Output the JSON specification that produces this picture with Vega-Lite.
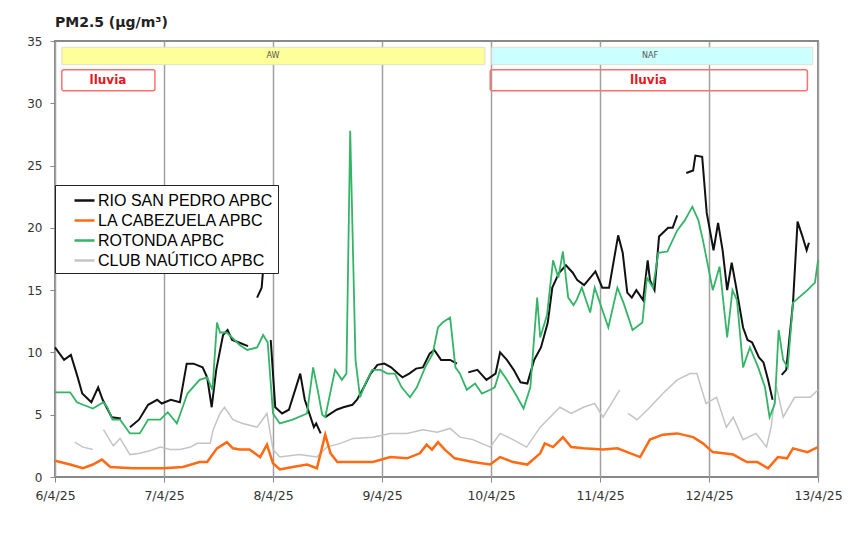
{
  "$schema": "https://vega.github.io/schema/vega-lite/v6.json",
  "width": 763,
  "height": 436,
  "autosize": {"type": "none"},
  "padding": {"left": 55, "top": 41, "right": 33, "bottom": 56},
  "background": "white",
  "title": {"text": "PM2.5 (µg/m³)", "anchor": "start", "frame": "group", "font": "DejaVu Sans", "fontSize": 14, "fontWeight": "bold", "color": "#222", "offset": 5},
  "config": {
    "view": {"stroke": "#888", "strokeWidth": 2},
    "axis": {"domain": false, "labelFont": "DejaVu Sans", "labelColor": "#333", "tickColor": "#888", "tickSize": 5, "title": null}
  },
  "datasets": {
    "bands": [
      {"name": "AW", "start": "2025-04-06T01:30", "end": "2025-04-09T22:40"},
      {"name": "NAF", "start": "2025-04-10T00:10", "end": "2025-04-12T22:50"}
    ],
    "bandlabels": [
      {"name": "AW", "t": "2025-04-08T00:00"},
      {"name": "NAF", "t": "2025-04-11T11:00"}
    ],
    "rain": [
      {"start": "2025-04-06T01:30", "end": "2025-04-06T22:00"},
      {"start": "2025-04-09T23:50", "end": "2025-04-12T21:40"}
    ],
    "rainlabels": [
      {"label": "lluvia", "t": "2025-04-06T11:40"},
      {"label": "lluvia", "t": "2025-04-11T10:40"}
    ],
    "rsp": [
      {"t": "2025-04-06T00:00", "v": 10.4}, {"t": "2025-04-06T02:00", "v": 9.4}, {"t": "2025-04-06T03:30", "v": 9.8},
      {"t": "2025-04-06T05:00", "v": 8.0}, {"t": "2025-04-06T06:00", "v": 6.7}, {"t": "2025-04-06T08:00", "v": 6.0},
      {"t": "2025-04-06T09:30", "v": 7.2}, {"t": "2025-04-06T10:30", "v": 6.2}, {"t": "2025-04-06T12:30", "v": 4.8},
      {"t": "2025-04-06T14:30", "v": 4.7}, {"t": "2025-04-06T15:30", "v": null}, {"t": "2025-04-06T16:30", "v": 4.0},
      {"t": "2025-04-06T18:30", "v": 4.6}, {"t": "2025-04-06T20:30", "v": 5.8}, {"t": "2025-04-06T22:30", "v": 6.2},
      {"t": "2025-04-06T23:30", "v": 5.9}, {"t": "2025-04-07T01:30", "v": 6.2}, {"t": "2025-04-07T03:30", "v": 6.0},
      {"t": "2025-04-07T05:00", "v": 9.1}, {"t": "2025-04-07T06:30", "v": 9.1}, {"t": "2025-04-07T08:30", "v": 8.8},
      {"t": "2025-04-07T09:30", "v": 8.0}, {"t": "2025-04-07T10:30", "v": 5.6}, {"t": "2025-04-07T11:30", "v": 8.6},
      {"t": "2025-04-07T13:00", "v": 11.4}, {"t": "2025-04-07T14:00", "v": 11.8}, {"t": "2025-04-07T15:00", "v": 11.0},
      {"t": "2025-04-07T16:30", "v": 10.8}, {"t": "2025-04-07T18:30", "v": 10.5}, {"t": "2025-04-07T19:30", "v": null},
      {"t": "2025-04-07T20:30", "v": 14.4}, {"t": "2025-04-07T21:30", "v": 15.2}, {"t": "2025-04-07T22:30", "v": 19.6},
      {"t": "2025-04-07T23:00", "v": null}, {"t": "2025-04-07T23:30", "v": 11.0}, {"t": "2025-04-08T00:30", "v": 5.6},
      {"t": "2025-04-08T02:00", "v": 5.1}, {"t": "2025-04-08T03:30", "v": 5.4}, {"t": "2025-04-08T06:00", "v": 8.3},
      {"t": "2025-04-08T07:00", "v": 6.2}, {"t": "2025-04-08T09:00", "v": 4.0}, {"t": "2025-04-08T09:30", "v": 4.3},
      {"t": "2025-04-08T10:30", "v": 3.5}, {"t": "2025-04-08T11:00", "v": null}, {"t": "2025-04-08T11:30", "v": 4.8},
      {"t": "2025-04-08T14:00", "v": 5.4}, {"t": "2025-04-08T15:30", "v": 5.6}, {"t": "2025-04-08T17:30", "v": 5.8},
      {"t": "2025-04-08T18:30", "v": 6.2}, {"t": "2025-04-08T20:00", "v": 7.2}, {"t": "2025-04-08T21:30", "v": 8.3},
      {"t": "2025-04-08T23:00", "v": 9.0}, {"t": "2025-04-09T00:30", "v": 9.1}, {"t": "2025-04-09T02:00", "v": 8.8},
      {"t": "2025-04-09T03:30", "v": 8.3}, {"t": "2025-04-09T04:30", "v": 8.0}, {"t": "2025-04-09T06:00", "v": 8.3},
      {"t": "2025-04-09T07:30", "v": 8.7}, {"t": "2025-04-09T09:00", "v": 8.8}, {"t": "2025-04-09T10:30", "v": 9.9},
      {"t": "2025-04-09T11:30", "v": 10.2}, {"t": "2025-04-09T13:00", "v": 9.4}, {"t": "2025-04-09T15:00", "v": 9.4},
      {"t": "2025-04-09T16:30", "v": 9.1}, {"t": "2025-04-09T17:30", "v": null}, {"t": "2025-04-09T19:00", "v": 8.4},
      {"t": "2025-04-09T21:00", "v": 8.6}, {"t": "2025-04-09T23:00", "v": 7.8}, {"t": "2025-04-10T01:00", "v": 8.3},
      {"t": "2025-04-10T02:00", "v": 10.0}, {"t": "2025-04-10T03:30", "v": 9.4}, {"t": "2025-04-10T05:00", "v": 8.6},
      {"t": "2025-04-10T06:30", "v": 7.6}, {"t": "2025-04-10T08:00", "v": 7.5}, {"t": "2025-04-10T09:30", "v": 9.4},
      {"t": "2025-04-10T11:00", "v": 10.4}, {"t": "2025-04-10T12:30", "v": 12.4}, {"t": "2025-04-10T13:30", "v": 15.2},
      {"t": "2025-04-10T15:00", "v": 16.4}, {"t": "2025-04-10T16:30", "v": 17.0}, {"t": "2025-04-10T18:00", "v": 16.4},
      {"t": "2025-04-10T19:00", "v": 15.8}, {"t": "2025-04-10T20:30", "v": 15.4}, {"t": "2025-04-10T23:00", "v": 16.5},
      {"t": "2025-04-11T00:30", "v": 15.2}, {"t": "2025-04-11T02:00", "v": 15.2}, {"t": "2025-04-11T04:00", "v": 19.4},
      {"t": "2025-04-11T05:00", "v": 18.0}, {"t": "2025-04-11T06:00", "v": 14.8}, {"t": "2025-04-11T07:00", "v": 14.4},
      {"t": "2025-04-11T08:00", "v": 15.0}, {"t": "2025-04-11T09:30", "v": 14.2}, {"t": "2025-04-11T10:30", "v": 17.4},
      {"t": "2025-04-11T11:00", "v": 15.8}, {"t": "2025-04-11T12:00", "v": 15.0}, {"t": "2025-04-11T13:00", "v": 19.3},
      {"t": "2025-04-11T15:00", "v": 20.0}, {"t": "2025-04-11T16:00", "v": 20.0}, {"t": "2025-04-11T17:00", "v": 21.0},
      {"t": "2025-04-11T18:00", "v": null}, {"t": "2025-04-11T19:00", "v": 24.4}, {"t": "2025-04-11T20:30", "v": 24.6},
      {"t": "2025-04-11T21:00", "v": 25.8}, {"t": "2025-04-11T22:30", "v": 25.7}, {"t": "2025-04-11T23:30", "v": 21.2},
      {"t": "2025-04-12T01:00", "v": 18.2}, {"t": "2025-04-12T02:00", "v": 20.4}, {"t": "2025-04-12T03:00", "v": 18.2},
      {"t": "2025-04-12T04:00", "v": 15.0}, {"t": "2025-04-12T05:00", "v": 17.2}, {"t": "2025-04-12T06:00", "v": 15.2},
      {"t": "2025-04-12T07:30", "v": 12.0}, {"t": "2025-04-12T08:30", "v": 11.0}, {"t": "2025-04-12T09:30", "v": 10.8},
      {"t": "2025-04-12T11:00", "v": 9.6}, {"t": "2025-04-12T12:00", "v": 9.2}, {"t": "2025-04-12T13:00", "v": 7.8},
      {"t": "2025-04-12T14:00", "v": 6.2}, {"t": "2025-04-12T15:00", "v": null}, {"t": "2025-04-12T16:00", "v": 8.2},
      {"t": "2025-04-12T17:00", "v": 8.6}, {"t": "2025-04-12T18:30", "v": 14.0}, {"t": "2025-04-12T19:30", "v": 20.5},
      {"t": "2025-04-12T20:30", "v": 19.4}, {"t": "2025-04-12T21:30", "v": 18.2}, {"t": "2025-04-12T22:00", "v": 18.8}
    ],
    "cab": [
      {"t": "2025-04-06T00:00", "v": 1.3}, {"t": "2025-04-06T03:20", "v": 1.0}, {"t": "2025-04-06T06:10", "v": 0.7},
      {"t": "2025-04-06T08:20", "v": 1.0}, {"t": "2025-04-06T10:20", "v": 1.4}, {"t": "2025-04-06T12:10", "v": 0.8},
      {"t": "2025-04-06T17:10", "v": 0.7}, {"t": "2025-04-06T23:50", "v": 0.7}, {"t": "2025-04-07T04:10", "v": 0.8},
      {"t": "2025-04-07T07:50", "v": 1.2}, {"t": "2025-04-07T09:30", "v": 1.2}, {"t": "2025-04-07T11:40", "v": 2.3},
      {"t": "2025-04-07T13:50", "v": 2.8}, {"t": "2025-04-07T15:10", "v": 2.3}, {"t": "2025-04-07T16:40", "v": 2.2},
      {"t": "2025-04-07T18:50", "v": 2.2}, {"t": "2025-04-07T21:10", "v": 1.6}, {"t": "2025-04-07T22:40", "v": 2.6},
      {"t": "2025-04-08T00:00", "v": 1.1}, {"t": "2025-04-08T01:30", "v": 0.6}, {"t": "2025-04-08T04:20", "v": 0.8},
      {"t": "2025-04-08T07:30", "v": 1.0}, {"t": "2025-04-08T09:40", "v": 0.7}, {"t": "2025-04-08T11:30", "v": 3.4},
      {"t": "2025-04-08T12:40", "v": 1.9}, {"t": "2025-04-08T14:10", "v": 1.2}, {"t": "2025-04-08T17:40", "v": 1.2},
      {"t": "2025-04-08T22:00", "v": 1.2}, {"t": "2025-04-09T01:50", "v": 1.6}, {"t": "2025-04-09T05:30", "v": 1.5},
      {"t": "2025-04-09T08:20", "v": 1.9}, {"t": "2025-04-09T09:50", "v": 2.6}, {"t": "2025-04-09T11:00", "v": 2.2},
      {"t": "2025-04-09T12:20", "v": 2.8}, {"t": "2025-04-09T13:50", "v": 2.2}, {"t": "2025-04-09T16:00", "v": 1.5},
      {"t": "2025-04-09T20:00", "v": 1.2}, {"t": "2025-04-09T23:50", "v": 1.0}, {"t": "2025-04-10T02:00", "v": 1.6},
      {"t": "2025-04-10T04:50", "v": 1.2}, {"t": "2025-04-10T08:00", "v": 1.0}, {"t": "2025-04-10T10:50", "v": 1.9},
      {"t": "2025-04-10T11:50", "v": 2.7}, {"t": "2025-04-10T13:40", "v": 2.4}, {"t": "2025-04-10T15:50", "v": 3.2},
      {"t": "2025-04-10T17:40", "v": 2.4}, {"t": "2025-04-10T20:20", "v": 2.3}, {"t": "2025-04-11T00:40", "v": 2.2},
      {"t": "2025-04-11T03:50", "v": 2.3}, {"t": "2025-04-11T08:50", "v": 1.6}, {"t": "2025-04-11T11:00", "v": 3.0},
      {"t": "2025-04-11T13:50", "v": 3.4}, {"t": "2025-04-11T17:00", "v": 3.5}, {"t": "2025-04-11T20:30", "v": 3.2},
      {"t": "2025-04-11T22:40", "v": 2.7}, {"t": "2025-04-12T00:50", "v": 2.0}, {"t": "2025-04-12T03:10", "v": 1.9},
      {"t": "2025-04-12T05:20", "v": 1.8}, {"t": "2025-04-12T08:20", "v": 1.2}, {"t": "2025-04-12T10:40", "v": 1.2},
      {"t": "2025-04-12T13:00", "v": 0.7}, {"t": "2025-04-12T15:10", "v": 1.6}, {"t": "2025-04-12T17:10", "v": 1.5},
      {"t": "2025-04-12T18:30", "v": 2.3}, {"t": "2025-04-12T21:40", "v": 2.0}, {"t": "2025-04-13T00:00", "v": 2.4}
    ],
    "rot": [
      {"t": "2025-04-06T00:00", "v": 6.8}, {"t": "2025-04-06T03:20", "v": 6.8}, {"t": "2025-04-06T04:50", "v": 6.0},
      {"t": "2025-04-06T06:10", "v": 5.8}, {"t": "2025-04-06T08:20", "v": 5.5}, {"t": "2025-04-06T10:40", "v": 6.0},
      {"t": "2025-04-06T11:30", "v": 5.6}, {"t": "2025-04-06T12:40", "v": 4.6}, {"t": "2025-04-06T14:20", "v": 4.6},
      {"t": "2025-04-06T16:30", "v": 3.5}, {"t": "2025-04-06T18:40", "v": 3.5}, {"t": "2025-04-06T20:30", "v": 4.6},
      {"t": "2025-04-06T23:10", "v": 4.6}, {"t": "2025-04-07T00:50", "v": 5.2}, {"t": "2025-04-07T02:50", "v": 4.3},
      {"t": "2025-04-07T05:10", "v": 6.7}, {"t": "2025-04-07T07:50", "v": 7.8}, {"t": "2025-04-07T09:30", "v": 8.0},
      {"t": "2025-04-07T10:40", "v": 7.0}, {"t": "2025-04-07T11:40", "v": 12.4}, {"t": "2025-04-07T12:20", "v": 11.6},
      {"t": "2025-04-07T13:50", "v": 11.6}, {"t": "2025-04-07T16:40", "v": 10.6}, {"t": "2025-04-07T18:20", "v": 10.2},
      {"t": "2025-04-07T20:30", "v": 10.4}, {"t": "2025-04-07T21:50", "v": 11.4}, {"t": "2025-04-07T22:50", "v": 10.8},
      {"t": "2025-04-08T00:00", "v": 5.1}, {"t": "2025-04-08T01:30", "v": 4.3}, {"t": "2025-04-08T04:20", "v": 4.6},
      {"t": "2025-04-08T07:30", "v": 5.1}, {"t": "2025-04-08T08:50", "v": 8.8}, {"t": "2025-04-08T09:50", "v": 7.0},
      {"t": "2025-04-08T10:50", "v": 5.0}, {"t": "2025-04-08T11:30", "v": 4.8}, {"t": "2025-04-08T13:40", "v": 8.6},
      {"t": "2025-04-08T15:10", "v": 7.8}, {"t": "2025-04-08T16:10", "v": 8.3}, {"t": "2025-04-08T17:00", "v": 27.8},
      {"t": "2025-04-08T18:10", "v": 9.4}, {"t": "2025-04-08T19:10", "v": 6.4}, {"t": "2025-04-08T20:20", "v": 7.5},
      {"t": "2025-04-08T21:50", "v": 8.6}, {"t": "2025-04-08T23:40", "v": 8.6}, {"t": "2025-04-09T01:10", "v": 8.3},
      {"t": "2025-04-09T02:50", "v": 8.3}, {"t": "2025-04-09T04:20", "v": 7.2}, {"t": "2025-04-09T06:10", "v": 6.4},
      {"t": "2025-04-09T07:40", "v": 7.2}, {"t": "2025-04-09T09:30", "v": 8.8}, {"t": "2025-04-09T11:10", "v": 9.9},
      {"t": "2025-04-09T12:20", "v": 12.0}, {"t": "2025-04-09T13:20", "v": 12.4}, {"t": "2025-04-09T15:00", "v": 12.8},
      {"t": "2025-04-09T16:10", "v": 8.8}, {"t": "2025-04-09T17:10", "v": 8.3}, {"t": "2025-04-09T18:40", "v": 7.0},
      {"t": "2025-04-09T20:30", "v": 7.5}, {"t": "2025-04-09T22:00", "v": 6.7}, {"t": "2025-04-09T23:50", "v": 7.0},
      {"t": "2025-04-10T00:50", "v": 7.2}, {"t": "2025-04-10T02:00", "v": 8.6}, {"t": "2025-04-10T03:30", "v": 7.8},
      {"t": "2025-04-10T05:20", "v": 6.7}, {"t": "2025-04-10T07:10", "v": 5.5}, {"t": "2025-04-10T08:40", "v": 7.2},
      {"t": "2025-04-10T10:10", "v": 14.4}, {"t": "2025-04-10T10:50", "v": 11.2}, {"t": "2025-04-10T12:20", "v": 13.0},
      {"t": "2025-04-10T13:40", "v": 17.4}, {"t": "2025-04-10T14:50", "v": 16.0}, {"t": "2025-04-10T15:50", "v": 18.1},
      {"t": "2025-04-10T17:00", "v": 14.4}, {"t": "2025-04-10T18:10", "v": 13.8}, {"t": "2025-04-10T18:50", "v": 14.2},
      {"t": "2025-04-10T20:00", "v": 15.2}, {"t": "2025-04-10T21:50", "v": 13.2}, {"t": "2025-04-10T22:50", "v": 15.2},
      {"t": "2025-04-11T00:20", "v": 13.6}, {"t": "2025-04-11T01:50", "v": 12.0}, {"t": "2025-04-11T03:50", "v": 15.2},
      {"t": "2025-04-11T05:10", "v": 14.0}, {"t": "2025-04-11T07:10", "v": 11.8}, {"t": "2025-04-11T09:20", "v": 12.4},
      {"t": "2025-04-11T10:20", "v": 16.0}, {"t": "2025-04-11T11:40", "v": 15.2}, {"t": "2025-04-11T12:50", "v": 18.0},
      {"t": "2025-04-11T14:50", "v": 18.1}, {"t": "2025-04-11T17:00", "v": 19.8}, {"t": "2025-04-11T18:40", "v": 20.6},
      {"t": "2025-04-11T20:20", "v": 21.7}, {"t": "2025-04-11T21:40", "v": 20.6}, {"t": "2025-04-11T22:40", "v": 19.0},
      {"t": "2025-04-12T00:50", "v": 15.0}, {"t": "2025-04-12T02:20", "v": 16.9}, {"t": "2025-04-12T04:00", "v": 11.2},
      {"t": "2025-04-12T05:10", "v": 15.0}, {"t": "2025-04-12T06:10", "v": 14.2}, {"t": "2025-04-12T07:30", "v": 8.8},
      {"t": "2025-04-12T09:00", "v": 10.4}, {"t": "2025-04-12T10:50", "v": 8.8}, {"t": "2025-04-12T12:20", "v": 7.2},
      {"t": "2025-04-12T13:20", "v": 4.8}, {"t": "2025-04-12T14:30", "v": 5.9}, {"t": "2025-04-12T15:20", "v": 11.8},
      {"t": "2025-04-12T16:20", "v": 9.4}, {"t": "2025-04-12T17:20", "v": 8.8}, {"t": "2025-04-12T18:30", "v": 14.0},
      {"t": "2025-04-12T21:40", "v": 15.0}, {"t": "2025-04-12T23:20", "v": 15.6}, {"t": "2025-04-13T00:00", "v": 17.4}
    ],
    "club": [
      {"t": "2025-04-06T04:20", "v": 2.8}, {"t": "2025-04-06T06:10", "v": 2.4}, {"t": "2025-04-06T08:20", "v": 2.2},
      {"t": "2025-04-06T09:30", "v": null}, {"t": "2025-04-06T10:40", "v": 3.8}, {"t": "2025-04-06T12:50", "v": 2.5},
      {"t": "2025-04-06T14:20", "v": 3.1}, {"t": "2025-04-06T16:30", "v": 1.8}, {"t": "2025-04-06T18:40", "v": 1.9},
      {"t": "2025-04-06T20:50", "v": 2.1}, {"t": "2025-04-06T23:10", "v": 2.4}, {"t": "2025-04-07T01:20", "v": 2.2},
      {"t": "2025-04-07T03:30", "v": 2.2}, {"t": "2025-04-07T05:50", "v": 2.4}, {"t": "2025-04-07T07:20", "v": 2.7},
      {"t": "2025-04-07T10:10", "v": 2.7}, {"t": "2025-04-07T10:50", "v": 3.8}, {"t": "2025-04-07T12:20", "v": 5.1},
      {"t": "2025-04-07T13:20", "v": 5.6}, {"t": "2025-04-07T15:10", "v": 4.6}, {"t": "2025-04-07T17:20", "v": 4.3},
      {"t": "2025-04-07T20:30", "v": 4.0}, {"t": "2025-04-07T22:40", "v": 5.1}, {"t": "2025-04-08T00:00", "v": 2.2},
      {"t": "2025-04-08T01:30", "v": 1.6}, {"t": "2025-04-08T05:50", "v": 1.8}, {"t": "2025-04-08T09:40", "v": 1.6},
      {"t": "2025-04-08T11:50", "v": 2.4}, {"t": "2025-04-08T14:50", "v": 2.7}, {"t": "2025-04-08T17:40", "v": 3.1},
      {"t": "2025-04-08T22:00", "v": 3.2}, {"t": "2025-04-09T01:50", "v": 3.5}, {"t": "2025-04-09T05:30", "v": 3.5},
      {"t": "2025-04-09T09:00", "v": 3.8}, {"t": "2025-04-09T12:10", "v": 3.6}, {"t": "2025-04-09T15:00", "v": 3.9},
      {"t": "2025-04-09T17:10", "v": 3.2}, {"t": "2025-04-09T20:00", "v": 3.0}, {"t": "2025-04-09T23:50", "v": 2.4},
      {"t": "2025-04-10T02:00", "v": 3.5}, {"t": "2025-04-10T04:50", "v": 3.0}, {"t": "2025-04-10T07:50", "v": 2.4},
      {"t": "2025-04-10T10:50", "v": 4.0}, {"t": "2025-04-10T13:00", "v": 4.8}, {"t": "2025-04-10T15:10", "v": 5.6},
      {"t": "2025-04-10T17:40", "v": 5.1}, {"t": "2025-04-10T20:20", "v": 5.6}, {"t": "2025-04-10T22:50", "v": 5.9},
      {"t": "2025-04-11T00:40", "v": 4.8}, {"t": "2025-04-11T04:20", "v": 7.0}, {"t": "2025-04-11T05:00", "v": null},
      {"t": "2025-04-11T06:10", "v": 5.1}, {"t": "2025-04-11T08:10", "v": 4.6}, {"t": "2025-04-11T11:00", "v": 5.6},
      {"t": "2025-04-11T13:50", "v": 6.7}, {"t": "2025-04-11T17:00", "v": 7.8}, {"t": "2025-04-11T19:50", "v": 8.3},
      {"t": "2025-04-11T21:20", "v": 8.3}, {"t": "2025-04-11T22:40", "v": 6.7}, {"t": "2025-04-11T23:20", "v": 5.9},
      {"t": "2025-04-12T01:40", "v": 6.4}, {"t": "2025-04-12T03:50", "v": 4.0}, {"t": "2025-04-12T05:20", "v": 4.8},
      {"t": "2025-04-12T07:30", "v": 3.0}, {"t": "2025-04-12T10:20", "v": 3.5}, {"t": "2025-04-12T12:40", "v": 2.4},
      {"t": "2025-04-12T13:40", "v": 4.0}, {"t": "2025-04-12T14:50", "v": 7.3}, {"t": "2025-04-12T16:20", "v": 4.8},
      {"t": "2025-04-12T18:50", "v": 6.4}, {"t": "2025-04-12T22:20", "v": 6.4}, {"t": "2025-04-13T00:00", "v": 7.0}
    ]
  },
  "layer": [
    {
      "data": {"name": "bands"},
      "mark": {"type": "rect", "stroke": "#e0e0d0", "strokeWidth": 1},
      "encoding": {
        "x": {"field": "start", "type": "temporal", "scale": {"domain": [{"year": 2025, "month": 4, "date": 6}, {"year": 2025, "month": 4, "date": 13}]},
          "axis": {"values": [{"year": 2025, "month": 4, "date": 6}, {"year": 2025, "month": 4, "date": 7}, {"year": 2025, "month": 4, "date": 8}, {"year": 2025, "month": 4, "date": 9}, {"year": 2025, "month": 4, "date": 10}, {"year": 2025, "month": 4, "date": 11}, {"year": 2025, "month": 4, "date": 12}, {"year": 2025, "month": 4, "date": 13}],
            "format": "%-d/%-m/%y", "grid": true, "gridColor": "#a0a0a0", "gridWidth": 1.5, "labelFontSize": 12.5, "labelPadding": 7, "labelFlush": false, "labelOverlap": false}},
        "x2": {"field": "end"},
        "y": {"datum": 33.1, "type": "quantitative", "scale": {"domain": [0, 35]},
          "axis": {"values": [0, 5, 10, 15, 20, 25, 30, 35], "grid": false, "labelFontSize": 12, "labelPadding": 8}},
        "y2": {"datum": 34.5},
        "fill": {"field": "name", "type": "nominal", "scale": {"domain": ["AW", "NAF"], "range": ["#ffff99", "#ccffff"]}, "legend": null}
      }
    },
    {
      "data": {"name": "bandlabels"},
      "mark": {"type": "text", "font": "DejaVu Sans", "fontSize": 8, "color": "#555"},
      "encoding": {
        "x": {"field": "t", "type": "temporal"},
        "y": {"datum": 33.8, "type": "quantitative"},
        "text": {"field": "name"}
      }
    },
    {
      "data": {"name": "rain"},
      "mark": {"type": "rect", "fill": null, "fillOpacity": 0, "stroke": "#ff7070", "strokeWidth": 1.5, "cornerRadius": 2},
      "encoding": {
        "x": {"field": "start", "type": "temporal"},
        "x2": {"field": "end"},
        "y": {"datum": 31.0, "type": "quantitative"},
        "y2": {"datum": 32.7}
      }
    },
    {
      "data": {"name": "rainlabels"},
      "mark": {"type": "text", "font": "DejaVu Sans", "fontSize": 12, "fontWeight": "bold", "color": "#e8161d"},
      "encoding": {
        "x": {"field": "t", "type": "temporal"},
        "y": {"datum": 31.85, "type": "quantitative"},
        "text": {"field": "label"}
      }
    },
    {
      "mark": {"type": "rule", "color": "#ff0000", "strokeWidth": 3},
      "encoding": {"y": {"datum": 25, "type": "quantitative"}}
    },
    {
      "data": {"name": "club"},
      "mark": {"type": "line", "strokeWidth": 1.5, "invalid": "break-paths-show-domains"},
      "encoding": {
        "x": {"field": "t", "type": "temporal"},
        "y": {"field": "v", "type": "quantitative"},
        "color": {"datum": "CLUB NAÚTICO  APBC", "type": "nominal",
          "scale": {"domain": ["RIO SAN PEDRO APBC", "LA CABEZUELA  APBC", "ROTONDA  APBC", "CLUB NAÚTICO  APBC"], "range": ["#111111", "#ff6a13", "#33b466", "#c4c4c4"]},
          "legend": {"orient": "none", "legendX": 0, "legendY": 144, "title": null, "symbolType": "stroke", "symbolSize": 400, "symbolStrokeWidth": 2.5, "symbolOffset": 14,
            "labelFont": "Liberation Sans", "labelFontSize": 16, "labelColor": "#000", "labelLimit": 400, "labelOffset": 2,
            "strokeColor": "#222", "fillColor": "#ffffff", "padding": 4, "rowPadding": 0}}
      }
    },
    {
      "data": {"name": "cab"},
      "mark": {"type": "line", "strokeWidth": 2.5, "invalid": "break-paths-show-domains"},
      "encoding": {
        "x": {"field": "t", "type": "temporal"},
        "y": {"field": "v", "type": "quantitative"},
        "color": {"datum": "LA CABEZUELA  APBC", "type": "nominal"}
      }
    },
    {
      "data": {"name": "rsp"},
      "mark": {"type": "line", "strokeWidth": 2, "invalid": "break-paths-show-domains"},
      "encoding": {
        "x": {"field": "t", "type": "temporal"},
        "y": {"field": "v", "type": "quantitative"},
        "color": {"datum": "RIO SAN PEDRO APBC", "type": "nominal"}
      }
    },
    {
      "data": {"name": "rot"},
      "mark": {"type": "line", "strokeWidth": 1.8, "invalid": "break-paths-show-domains"},
      "encoding": {
        "x": {"field": "t", "type": "temporal"},
        "y": {"field": "v", "type": "quantitative"},
        "color": {"datum": "ROTONDA  APBC", "type": "nominal"}
      }
    }
  ]
}
